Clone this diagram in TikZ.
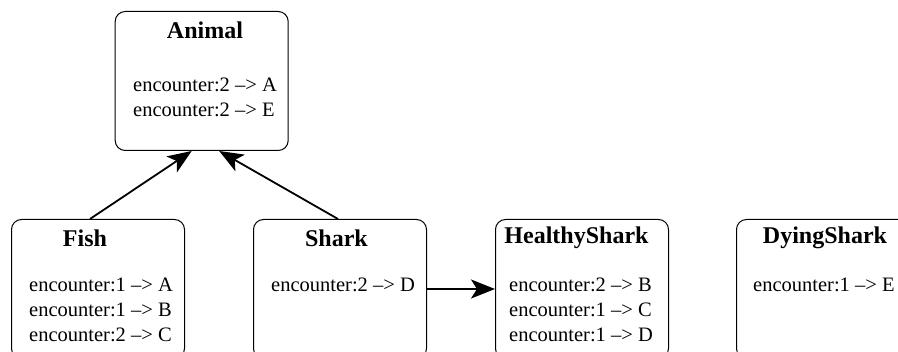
\documentclass[tikz,border=0pt]{standalone}
\usepackage{fontspec}
\setmainfont{Liberation Serif}
\usetikzlibrary{arrows.meta}

\tikzset{
  cls/.style={draw, rounded corners=10pt, minimum width=173pt, minimum height=139pt, inner sep=0pt, line width=1pt},
  ttl/.style={font=\fontsize{24}{28}\selectfont\bfseries, inner sep=0pt},
  rule/.style={font=\fontsize{20.5}{25}\selectfont, inner sep=0pt, anchor=west},
  inherit/.style={-{Stealth[length=24pt,width=19pt,inset=6pt]}, line width=1.8pt}
}

\begin{document}
\begin{tikzpicture}[x=1pt,y=-1pt]
        \useasboundingbox (0,0) rectangle (898,352);
        \clip (0,0) rectangle (898,352);

        % class boxes
        \node[cls] (animal) at (201.7,81) {};
        \node[cls] (fish) at (98,289) {};
        \node[cls] (shark) at (340,289) {};
        \node[cls] (healthy) at (582,289) {};
        \node[cls] (dying) at (823,289) {};

        % titles
        \node[ttl] (animalT) at (205,30) {Animal};
        \node[ttl] (fishT) at (85,238) {Fish};
        \node[ttl] (sharkT) at (336.5,238) {Shark};
        \node[ttl] (healthyT) at (576.5,238) {HealthyShark};
        \node[ttl] (dyingT) at (825,238) {DyingShark};

        % encounter rules
        \node[rule] (animal1) at (133,85) {encounter:2 {--}> A};
        \node[rule] (animal2) at (133,110) {encounter:2 {--}> E};

        \node[rule] (fish1) at (29,285) {encounter:1 {--}> A};
        \node[rule] (fish2) at (29,310) {encounter:1 {--}> B};
        \node[rule] (fish3) at (29,335) {encounter:2 {--}> C};

        \node[rule] (shark1) at (271,285) {encounter:2 {--}> D};

        \node[rule] (healthy1) at (509,285) {encounter:2 {--}> B};
        \node[rule] (healthy2) at (509,310) {encounter:1 {--}> C};
        \node[rule] (healthy3) at (509,335) {encounter:1 {--}> D};

        \node[rule] (dying1) at (753,285) {encounter:1 {--}> E};

        % arrows
        \draw[inherit] ([xshift=-8pt]fish.north) -- ([xshift=-10pt]animal.south);
        \draw[inherit] ([xshift=-2pt]shark.north) -- ([xshift=17.5pt]animal.south);
        \draw[inherit] (shark.east) -- (healthy.west);
\end{tikzpicture}
\end{document}
